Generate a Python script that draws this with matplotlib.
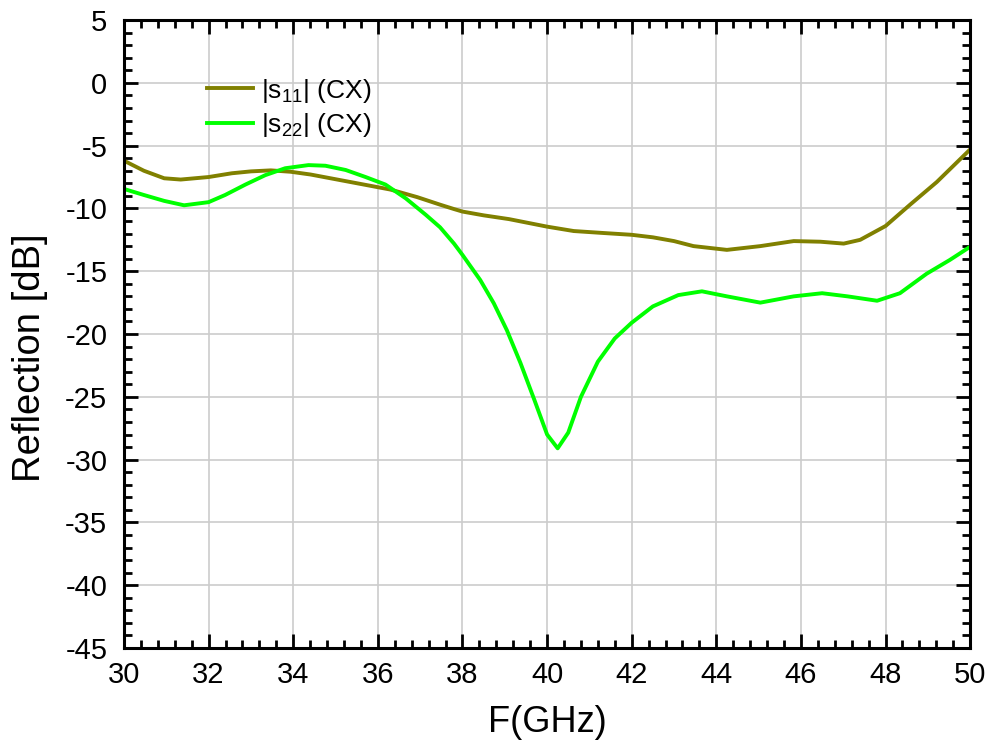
import matplotlib
matplotlib.use("Agg")
import matplotlib.pyplot as plt
from matplotlib.ticker import MultipleLocator

plt.rcParams['font.family'] = ['Liberation Sans', 'DejaVu Sans']
plt.rcParams['mathtext.fontset'] = 'custom'
plt.rcParams['mathtext.rm'] = 'Liberation Sans'
plt.rcParams['mathtext.it'] = 'Liberation Sans'
plt.rcParams['axes.unicode_minus'] = False

freq_s11 = [30.0, 30.47, 30.95, 31.34, 32.0, 32.55, 33.0, 33.47, 33.94, 34.41, 35.04, 35.67, 36.3, 36.93,
            37.47, 37.8, 38.0, 38.5, 39.1, 40.0, 40.63, 41.3, 42.0, 42.5, 43.0, 43.46, 44.25, 45.04,
            45.83, 46.46, 47.01, 47.4, 48.0, 48.58, 49.21, 50.0]
s11 = [-6.2, -7.0, -7.6, -7.7, -7.5, -7.2, -7.05, -6.97, -7.08, -7.3, -7.7, -8.1, -8.5, -9.1,
       -9.7, -10.05, -10.25, -10.55, -10.85, -11.45, -11.8, -11.95, -12.1, -12.3, -12.6, -13.0, -13.3, -13.0,
       -12.6, -12.65, -12.8, -12.5, -11.4, -9.7, -7.9, -5.3]

freq_s22 = [30.0, 30.47, 30.95, 31.42, 32.0, 32.39, 32.87, 33.34, 33.81, 34.36, 34.76, 35.24, 35.71, 36.18,
            36.66, 37.13, 37.47, 37.8, 38.0, 38.42, 38.74, 39.05, 39.37, 39.7, 40.0, 40.25, 40.5, 40.8,
            41.2, 41.6, 42.0, 42.5, 43.1, 43.66, 44.25, 45.04, 45.83, 46.5, 47.1, 47.8, 48.34, 48.97,
            49.52, 50.0]
s22 = [-8.45, -8.93, -9.4, -9.75, -9.5, -8.93, -8.1, -7.35, -6.8, -6.55, -6.6, -6.94, -7.5, -8.1,
       -9.2, -10.5, -11.5, -12.8, -13.7, -15.7, -17.55, -19.7, -22.3, -25.25, -28.0, -29.1, -27.85, -25.0,
       -22.2, -20.35, -19.1, -17.8, -16.9, -16.6, -17.0, -17.5, -17.0, -16.75, -17.0, -17.35, -16.75, -15.2,
       -14.1, -13.05]

fig = plt.figure(figsize=(9.92, 7.53), dpi=100)
ax = fig.add_axes([0.125, 0.1394, 0.853, 0.834])

ax.plot(freq_s11, s11, color='#808000', lw=2.8, label=r'|s$_{11}$| (CX)')
ax.plot(freq_s22, s22, color='#00ff00', lw=2.8, label=r'|s$_{22}$| (CX)')

ax.set_xlim(30, 50)
ax.set_ylim(-45, 5)
ax.xaxis.set_major_locator(MultipleLocator(2))
ax.xaxis.set_minor_locator(MultipleLocator(0.4))
ax.yaxis.set_major_locator(MultipleLocator(5))
ax.yaxis.set_minor_locator(MultipleLocator(1))
ax.grid(True, which='major', color='#cccccc', lw=1.2)
ax.set_axisbelow(True)
ax.tick_params(which='both', direction='in', top=True, right=True, width=2)
ax.tick_params(which='major', length=10, labelsize=21)
ax.tick_params(axis='x', which='major', pad=9)
ax.tick_params(axis='y', which='major', pad=12)
ax.tick_params(which='minor', length=5.5)
for s in ax.spines.values():
    s.set_linewidth(2.2)

ax.set_xlabel('F(GHz)', fontsize=26, labelpad=12)
ax.set_ylabel('Reflection [dB]', fontsize=27.5)
ax.yaxis.set_label_coords(-0.09, 0.463)

ax.legend(loc='upper left', bbox_to_anchor=(0.098, 0.91), frameon=False, fontsize=19,
          handlelength=1.75, handletextpad=0.3, labelspacing=0.25, borderpad=0.0,
          borderaxespad=0.0)

fig.savefig('out.png', dpi=100)
